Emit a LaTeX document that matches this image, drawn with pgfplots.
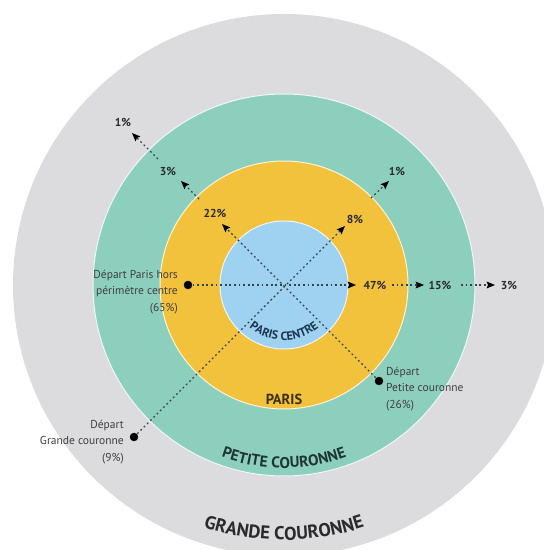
\documentclass[border=0pt]{standalone}
\usepackage{pgfplots}
\pgfplotsset{compat=1.18}
\usepackage{fontspec}
\setmainfont{PT Sans}
\usetikzlibrary{decorations.text,arrows.meta}
\definecolor{greyc}{HTML}{DCDCDF}
\definecolor{greenc}{HTML}{8DCFBD}
\definecolor{yellowc}{HTML}{F2C23C}
\definecolor{bluec}{HTML}{9ED2F0}
\definecolor{linec}{HTML}{34444E}
\definecolor{txt}{HTML}{2A2A2A}
\definecolor{navy}{HTML}{1C3550}
\definecolor{brownc}{HTML}{3A2E12}
\definecolor{greentxt}{HTML}{1E3533}
\tikzset{
  arr/.style={linec,line width=1.2pt,dash pattern=on 1.8pt off 2.8pt,
     -{Stealth[length=8.5pt,width=7pt,inset=1.5pt,black,line width=0pt]}},
  pct/.style={font=\fontsize{11.5}{12}\selectfont\bfseries,text=txt,inner sep=0pt},
  dep/.style={font=\fontsize{11.5}{16.5}\selectfont,text=txt!90,inner sep=0pt}}
\begin{document}
\begin{tikzpicture}
\begin{axis}[width=544pt,height=550pt,scale only axis,
  xmin=0,xmax=544,ymin=0,ymax=550,hide axis,clip=true]
% rings (centre 284,265; radii 271, 191, 124, 64)
\fill[greyc] (axis cs:284,265) circle[radius=271];
\filldraw[fill=greenc,draw=white!85!greenc,line width=1pt] (axis cs:284,265) circle[radius=191];
\filldraw[fill=yellowc,draw=white!80!yellowc,line width=1pt] (axis cs:284,265) circle[radius=124];
\filldraw[fill=bluec,draw=white!80!bluec,line width=1pt] (axis cs:284,265) circle[radius=64];

% Depart Paris hors perimetre centre (horizontal)
\addplot[arr] coordinates {(188,265) (356,265)};
\addplot[arr] coordinates {(392,265) (424,265)};
\addplot[arr] coordinates {(461,265) (495,265)};
% Depart Petite couronne (towards north-west)
\addplot[arr] coordinates {(379,169) (222,326)};
\addplot[arr] coordinates {(199,351) (181,369)};
\addplot[arr] coordinates {(158,391) (132,417)};
% Depart Grande couronne (towards north-east)
\addplot[arr] coordinates {(134,113) (345,324)};
\addplot[arr] coordinates {(371,352) (389,369)};
% departure points
\addplot[only marks,mark=*,mark size=4pt,black] coordinates {(188,265) (379,169) (134,113)};

% percentages
\node[pct] at (axis cs:375,265) {47\%};
\node[pct] at (axis cs:440,265) {15\%};
\node[pct] at (axis cs:509,265) {3\%};
\node[pct] at (axis cs:215,337) {22\%};
\node[pct] at (axis cs:168,379) {3\%};
\node[pct] at (axis cs:123,428) {1\%};
\node[pct] at (axis cs:355,331) {8\%};
\node[pct] at (axis cs:397,379) {1\%};

% departure labels
\node[dep,align=right,anchor=east] at (axis cs:178,258) {Départ Paris hors\\périmètre centre\\(65\%)};
\node[dep,align=left,anchor=west] at (axis cs:386,161) {Départ\\Petite couronne\\(26\%)};
\node[dep,align=right,anchor=east] at (axis cs:124,108) {Départ\\Grande couronne\\(9\%)};

% ring names
\node[font=\fontsize{14.5}{14.5}\selectfont\bfseries,text=brownc] at (axis cs:284,151) {PARIS};
\path[decorate,decoration={text along path,text align=center,
   text={|\fontsize{12}{12}\selectfont\bfseries\color{navy}|PARIS CENTRE}}]
   ([shift={(200:55pt)}]axis cs:284,265) arc[start angle=200,end angle=340,radius=55pt];
\path[decorate,decoration={text along path,text align=center,
   text={|\fontsize{15.5}{15.5}\selectfont\bfseries\color{greentxt}|PETITE COURONNE}}]
   ([shift={(215:183pt)}]axis cs:284,265) arc[start angle=215,end angle=325,radius=183pt];
\path[decorate,decoration={text along path,text align=center,
   text={|\fontsize{18.5}{18.5}\selectfont\bfseries\color{txt}|GRANDE COURONNE}}]
   ([shift={(220:255pt)}]axis cs:284,265) arc[start angle=220,end angle=320,radius=255pt];
\end{axis}
\pgfresetboundingbox
\useasboundingbox (current axis.south west) rectangle (current axis.north east);
\end{tikzpicture}
\end{document}
